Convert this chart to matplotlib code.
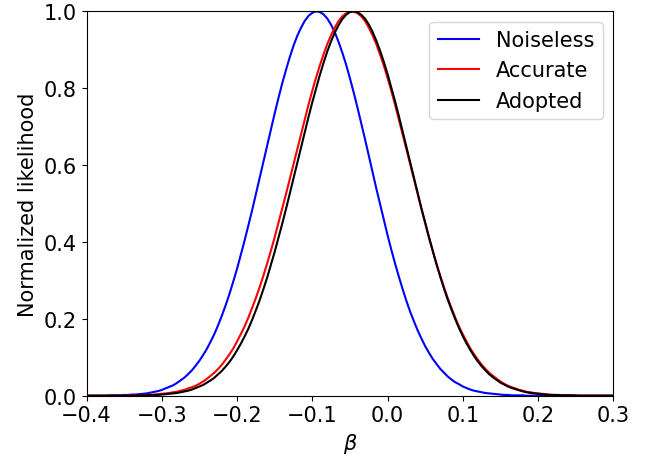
import numpy as np
import matplotlib
matplotlib.use("Agg")
import matplotlib.pyplot as plt

# beta grid: -0.400 ... 0.300 in steps of 0.005 (141 points)
beta = np.round(np.linspace(-0.40, 0.30, 141), 3)

noiseless = [0,0,0,0,0,0,.001,.001,.001,.001,.002,.002,.003,.003,.004,.005,.006,.008,.01,.012,
             .015,.019,.023,.027,.033,.04,.047,.056,.066,.078,.091,.106,.122,.141,.161,.184,.209,.236,.265,.297,
             .33,.366,.403,.442,.482,.524,.566,.608,.651,.693,.734,.774,.812,.847,.88,.91,.936,.957,.975,.988,
             .996,1,.998,.992,.981,.965,.945,.92,.892,.861,.826,.789,.75,.709,.668,.625,.583,.54,.499,.458,
             .418,.38,.344,.31,.278,.247,.219,.194,.17,.149,.129,.112,.096,.083,.07,.06,.05,.042,.035,.03,
             .024,.02,.016,.013,.011,.009,.007,.006,.005,.004,.003,.002,.002,.001,.001,.001,.001,0,0,0,
             0,0,0,0,0,0,0,0,0,0,0,0,0,0,0,0,0,0,0,0,0]
accurate = [0,0,0,0,0,0,0,0,0,0,0,.001,.001,.001,.001,.002,.002,.002,.003,.004,
            .005,.006,.007,.009,.01,.013,.015,.019,.022,.026,.031,.037,.044,.052,.06,.07,.081,.094,.108,.123,
            .141,.16,.18,.203,.228,.254,.282,.312,.344,.377,.412,.449,.486,.524,.563,.603,.642,.681,.719,.757,
            .793,.827,.859,.888,.915,.938,.958,.975,.987,.995,.999,
            .999,.995,.987,.975,.958,.938,.915,.888,.859,.827,.793,.757,.719,.681,.642,.603,.563,.524,.486,.449,
            .412,.377,.344,.312,.282,.254,.228,.203,.18,.16,.141,.123,.108,.094,.081,.07,.06,.052,.044,.037,
            .031,.026,.022,.019,.015,.013,.01,.009,.007,.006,.005,.004,.003,.002,.002,.002,.001,.001,.001,.001,
            0,0,0,0,0,0,0,0,0,0]
adopted = [0,0,0,0,0,0,0,0,0,0,0,0,0,.001,.001,.001,.001,.002,.002,.002,
           .003,.004,.005,.006,.007,.009,.011,.013,.016,.02,.024,.028,.034,.04,.047,.056,.065,.076,.088,.102,
           .118,.135,.154,.174,.197,.222,.248,.277,.307,.34,.374,.41,.447,.485,.525,.565,.605,.645,.685,.725,
           .763,.799,.834,.866,.896,.922,.945,.964,.98,.991,.998,1,.998,.991,.981,.966,.947,.924,.898,.869,
           .837,.802,.766,.728,.688,.649,.608,.568,.528,.488,.45,.413,.377,.342,.31,.279,.25,.224,.199,.176,
           .155,.136,.119,.103,.089,.077,.066,.056,.048,.041,.034,.029,.024,.02,.017,.014,.011,.009,.007,.006,
           .005,.004,.003,.002,.002,.002,.001,.001,.001,.001,0,0,0,0,0,0,0,0,0,0,0]

series_labels = ["Noiseless", "Accurate", "Adopted"]
series_colors = ["blue", "red", "black"]

plt.rcParams["font.size"] = 15

fig = plt.figure(figsize=(6.62, 4.60), dpi=100)
ax = fig.add_axes([0.1307, 0.1376, 0.7957, 0.8357])

for vals, lab, col in zip([noiseless, accurate, adopted], series_labels, series_colors):
    ax.plot(beta, vals, color=col, lw=1.5, label=lab)

ax.set_xlim(-0.4, 0.3)
ax.set_ylim(0.0, 1.0)
ax.set_xticks([-0.4, -0.3, -0.2, -0.1, 0.0, 0.1, 0.2, 0.3])
ax.set_yticks([0.0, 0.2, 0.4, 0.6, 0.8, 1.0])
ax.set_xlabel(r"$\beta$")
ax.set_ylabel("Normalized likelihood")
ax.legend(loc="upper right")

fig.savefig("out.png", dpi=100)
